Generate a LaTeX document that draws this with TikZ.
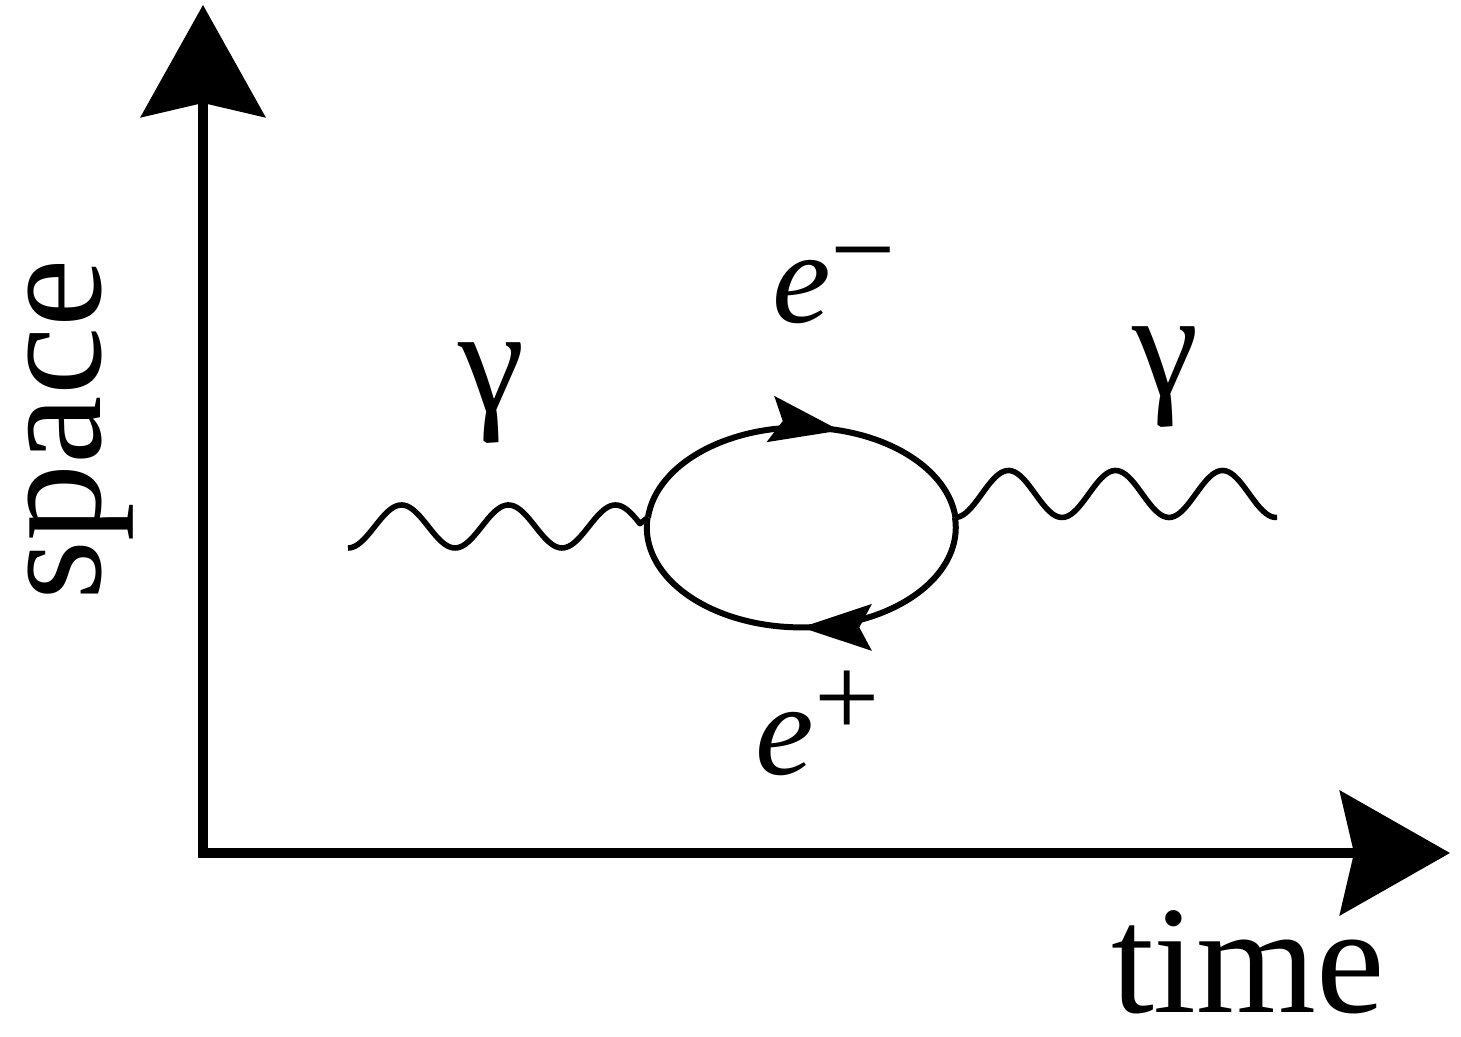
\documentclass[tikz,border=0pt]{standalone}
\usepackage{fontspec}
\setmainfont{Liberation Serif}
\usepackage{tikz}
\usetikzlibrary{arrows.meta, decorations.markings}
\tikzstyle{axis}    = [line width=5pt, line join=miter]
\tikzstyle{fermion} = [line width=3pt]
\tikzstyle{photon}  = [line width=2.8pt, line join=round]
\tikzstyle{txt}     = [inner sep=0pt, anchor=base]
\tikzset{midarrow/.style={postaction={decorate}, decoration={markings,
    mark=at position #1 with {\arrow{Stealth[length=35pt, width=23pt, inset=6pt]}}}}}
\newcommand{\elabel}[3]{{\fontsize{66}{70}\selectfont\itshape #1}\raisebox{#3}{\fontsize{58}{60}\selectfont #2}}

\begin{document}
\begin{tikzpicture}[x=0.5pt, y=0.5pt]
    \useasboundingbox (0,0) rectangle (1461,1037);

    % axes
    \coordinate (O)    at (203,184);
    \coordinate (send) at (203,1032);
    \coordinate (tend) at (1450,184);
    \draw [axis, {Stealth[length=56pt, width=62pt, inset=7pt]}-{Stealth[length=55pt, width=62pt, inset=7pt]}]
          (send) |- (tend);
    \node (timelbl)  [txt, text depth=0pt, font=\fontsize{77}{80}\selectfont] at (1248,24) {time};
    \node (spacelbl) [txt, rotate=90, text height=0.46em, font=\fontsize{77}{80}\selectfont] at (100,607) {space};

    % electron loop
    \coordinate (c)  at (801.5,509.5);
    \coordinate (v1) at (648,519.5);
    \coordinate (v2) at (955,519.5);
    \draw [fermion, midarrow=0.6] (v1) arc[start angle=174.3, end angle=5.7, x radius=154.5, y radius=100];
    \draw [fermion, midarrow=0.5] (v2) arc[start angle=5.7, end angle=-185.7, x radius=154.5, y radius=100];

    % photons
    \coordinate (g1) at (348,489);
    \draw [photon, shift={(g1)}] plot[domain=0:292, samples=120, smooth] (\x, {21.5*(1-cos(\x/107*360))}) -- (v1);
    \draw [photon, shift={(v2)}] plot[domain=0:322, samples=120, smooth] (\x, {23.5*(1-cos(\x/107*360))});

    % labels
    \node (gamin)  [txt, font=\fontsize{75}{78}\selectfont] at (492,625)  {γ};
    \node (gamout) [txt, font=\fontsize{75}{78}\selectfont] at (1166,641) {γ};
    \node (elec) [inner sep=0pt, anchor=base west] at (772,714) {\elabel{e}{−}{17pt}};
    \node (posi) [inner sep=0pt, anchor=base west] at (755,262) {\elabel{e}{+}{19pt}};
\end{tikzpicture}
\end{document}
